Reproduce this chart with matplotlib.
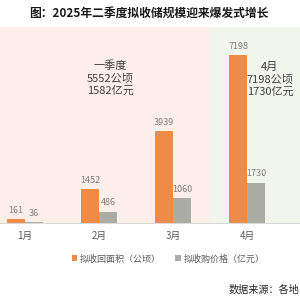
import matplotlib.pyplot as plt
import numpy as np

plt.rcParams['font.family'] = ['Noto Sans CJK SC', 'DejaVu Sans']

months = ['1月', '2月', '3月', '4月']
area = [161, 1452, 3939, 7198]      # 公顷
price = [36, 486, 1060, 1730]       # 亿元
series_names = ['拟收回面积（公顷）', '拟收购价格（亿元）']

orange = '#EE8C47'
gray = '#ABADA5'

fig = plt.figure(figsize=(3, 3), dpi=100)
ax = fig.add_axes([0, 0.257, 1, 0.653])

x = np.arange(len(months))
w = 0.24

# background areas: Q1 pink, April green
ax.axvspan(-0.4, 2.5, color='#FCEEE8', zorder=0, lw=0)
ax.axvspan(2.5, 3.8, color='#F1F6ED', zorder=0, lw=0)

ax.bar(x - 0.12, area, w, color=orange, label=series_names[0], zorder=2)
ax.bar(x + 0.12, price, w, color=gray, label=series_names[1], zorder=2)

for i in range(len(months)):
    ax.text(x[i] - 0.12, area[i] + 180, str(area[i]), ha='center', va='bottom',
            fontsize=6.5, color='#7F7F7F')
    ax.text(x[i] + 0.12, price[i] + 180, str(price[i]), ha='center', va='bottom',
            fontsize=6.5, color='#7F7F7F')

ax.set_xlim(-0.338, 3.716)
ax.set_ylim(0, 8400)
ax.set_xticks(x)
ax.set_xticklabels(months, fontsize=7, color='#595959')
ax.tick_params(length=0, pad=6)
ax.set_yticks([])
for s in ['top', 'left', 'right']:
    ax.spines[s].set_visible(False)
ax.spines['bottom'].set_color('#D9D9D9')

# annotations
ax.text(1.15, 6200, '一季度\n5552公顷\n1582亿元', ha='center', va='center',
        fontsize=8, color='#404040', linespacing=1.3)
ax.text(3.31, 6150, '4月\n7198公顷\n1730亿元', ha='center', va='center',
        fontsize=8, color='#404040', linespacing=1.3)

fig.legend(loc='center', bbox_to_anchor=(0.56, 0.137), ncol=2, frameon=False,
           fontsize=6.5, handlelength=0.6, handleheight=0.6, handletextpad=0.3,
           columnspacing=1.6, labelcolor='#595959')

fig.text(0.495, 0.957, '图：2025年二季度拟收储规模迎来爆发式增长', ha='center',
         va='center', fontsize=8.5, fontweight='bold', color='#1A1A1A')
fig.text(0.997, 0.033, '数据来源：各地', ha='right', va='center',
         fontsize=7.3, color='#262626')

fig.savefig('out.png', dpi=100)
